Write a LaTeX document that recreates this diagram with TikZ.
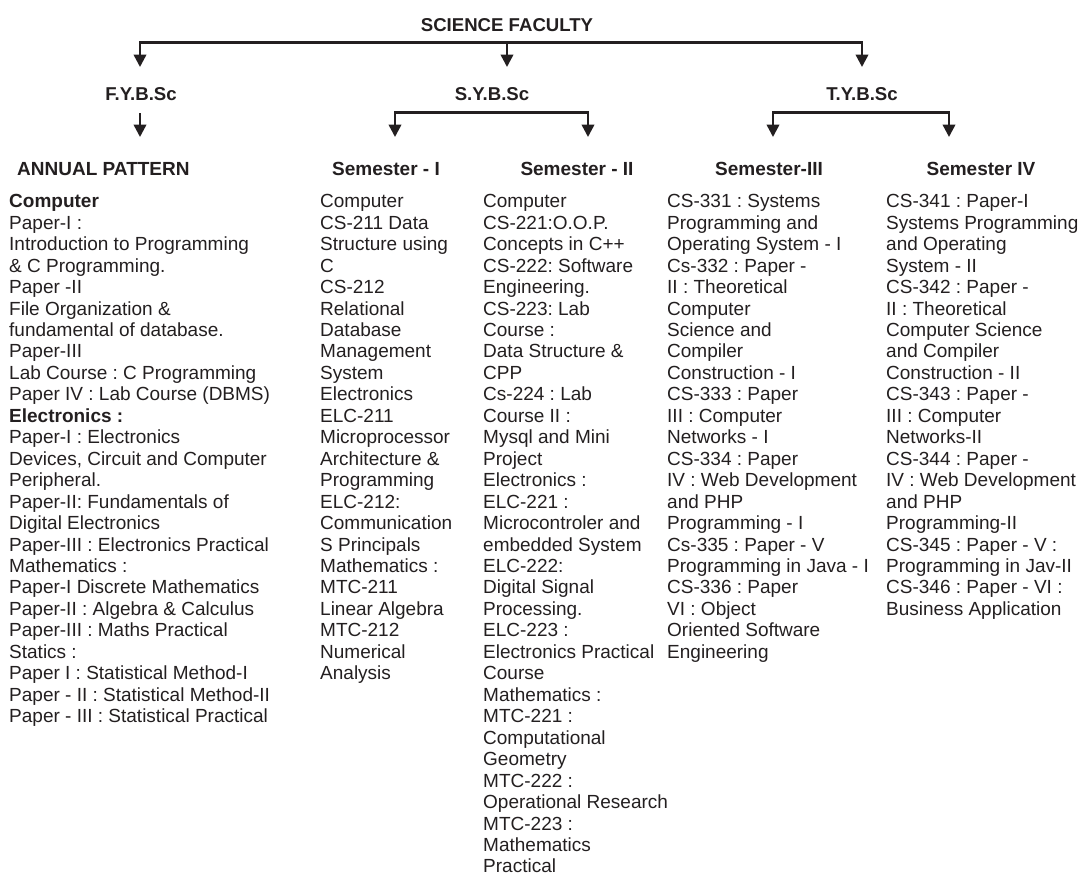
\documentclass[tikz,border=0pt]{standalone}
\usepackage{fontspec}
\setmainfont{Liberation Sans}
\usetikzlibrary{arrows.meta}
\definecolor{ink}{HTML}{231F20}
\frenchspacing
\begin{document}
\begin{tikzpicture}[x=1pt,y=-1pt,
  every node/.style={text=ink},
  hd/.style={font=\fontsize{18.6}{21}\selectfont\bfseries, inner sep=0pt, anchor=base},
  colhd/.style={font=\fontsize{19}{21}\selectfont\bfseries, inner sep=0pt, anchor=base},
  body/.style={font=\fontsize{19}{21.46}\selectfont, inner sep=0pt, anchor=base west},
  wire/.style={draw=ink, line width=2.5pt},
  arr/.style={wire, -{Triangle[width=12.5pt,length=12.5pt]}},
]
\useasboundingbox (0,0) rectangle (1081,876);

% ---- titles ----
\node[hd] (sf) at (507,31) {SCIENCE FACULTY};
\node[hd] (fy) at (141,100) {F.Y.B.Sc};
\node[hd] (sy) at (492,100) {S.Y.B.Sc};
\node[hd] (ty) at (862,100) {T.Y.B.Sc};

% ---- column headings ----
\node[colhd, anchor=base west] (annual) at (17,175) {ANNUAL PATTERN};
\node[colhd] (sem1) at (386,175) {Semester - I};
\node[colhd] (sem2) at (577,175) {Semester - II};
\node[colhd] (sem3) at (769,175) {Semester-III};
\node[colhd] (sem4) at (981,175) {Semester IV};

% ---- connector points ----
\coordinate (busL) at (140,42.7);
\coordinate (busM) at (507,42.7);
\coordinate (busR) at (862,42.7);
\coordinate (fyIn) at (140,67);
\coordinate (syIn) at (507,67);
\coordinate (tyIn) at (862,67);
\coordinate (fyOut) at (140,113);
\coordinate (annualIn) at (140,137);
\coordinate (syL) at (395,112.7);
\coordinate (syR) at (588,112.7);
\coordinate (sem1In) at (395,137);
\coordinate (sem2In) at (588,137);
\coordinate (tyL) at (773,112.7);
\coordinate (tyR) at (949,112.7);
\coordinate (sem3In) at (773,137);
\coordinate (sem4In) at (949,137);

% ---- faculty to years ----
\draw[arr] (busM) -- (busL) -- (fyIn);
\draw[arr] (busM) -- (busR) -- (tyIn);
\draw[arr] (busM) -- (syIn);

% ---- years to patterns ----
\draw[arr] (fyOut) -- (annualIn);
\draw[arr] (syR) -- (syL) -- (sem1In);
\draw[arr] (syL) -- (syR) -- (sem2In);
\draw[arr] (tyR) -- (tyL) -- (sem3In);
\draw[arr] (tyL) -- (tyR) -- (sem4In);

% ---- syllabus columns ----
\node[body] (c1) at (9,207.7) {\parbox[t]{320pt}{%
\textbf{Computer}\\
Paper-I :\\
Introduction to Programming\\
\& C Programming.\\
Paper -II\\
File Organization \&\\
fundamental of database.\\
Paper-III\\
Lab Course : C Programming\\
Paper IV : Lab Course (DBMS)\\
\textbf{Electronics :}\\
Paper-I : Electronics\\
Devices, Circuit and Computer\\
Peripheral.\\
Paper-II: Fundamentals of\\
Digital Electronics\\
Paper-III : Electronics Practical\\
Mathematics :\\
Paper-I Discrete Mathematics\\
Paper-II : Algebra \& Calculus\\
Paper-III : Maths Practical\\
Statics :\\
Paper I : Statistical Method-I\\
Paper - II : Statistical Method-II\\
Paper - III : Statistical Practical}};

\node[body] (c2) at (320,207.7) {\parbox[t]{160pt}{%
Computer\\
CS-211 Data\\
Structure using\\
C\\
CS-212\\
Relational\\
Database\\
Management\\
System\\
Electronics\\
ELC-211\\
Microprocessor\\
Architecture \&\\
Programming\\
ELC-212:\\
Communication\\
S Principals\\
Mathematics :\\
MTC-211\\
Linear Algebra\\
MTC-212\\
Numerical\\
Analysis}};

\node[body] (c3) at (483,207.7) {\parbox[t]{200pt}{%
Computer\\
CS-221:O.O.P.\\
Concepts in C++\\
CS-222: Software\\
Engineering.\\
CS-223: Lab\\
Course :\\
Data Structure \&\\
CPP\\
Cs-224 : Lab\\
Course II :\\
Mysql and Mini\\
Project\\
Electronics :\\
ELC-221 :\\
Microcontroler and\\
embedded System\\
ELC-222:\\
Digital Signal\\
Processing.\\
ELC-223 :\\
Electronics Practical\\
Course\\
Mathematics :\\
MTC-221 :\\
Computational\\
Geometry\\
MTC-222 :\\
Operational Research\\
MTC-223 :\\
Mathematics\\
Practical}};

\node[body] (c4) at (667,207.7) {\parbox[t]{220pt}{%
CS-331 : Systems\\
Programming and\\
Operating System - I\\
Cs-332 : Paper -\\
II : Theoretical\\
Computer\\
Science and\\
Compiler\\
Construction - I\\
CS-333 : Paper\\
III : Computer\\
Networks - I\\
CS-334 : Paper\\
IV : Web Development\\
and PHP\\
Programming - I\\
Cs-335 : Paper - V\\
Programming in Java - I\\
CS-336 : Paper\\
VI : Object\\
Oriented Software\\
Engineering}};

\node[body] (c5) at (886,207.7) {\parbox[t]{200pt}{%
CS-341 : Paper-I\\
Systems Programming\\
and Operating\\
System - II\\
CS-342 : Paper -\\
II : Theoretical\\
Computer Science\\
and Compiler\\
Construction - II\\
CS-343 : Paper -\\
III : Computer\\
Networks-II\\
CS-344 : Paper -\\
IV : Web Development\\
and PHP\\
Programming-II\\
CS-345 : Paper - V :\\
Programming in Jav-II\\
CS-346 : Paper - VI :\\
Business Application}};
\end{tikzpicture}
\end{document}
